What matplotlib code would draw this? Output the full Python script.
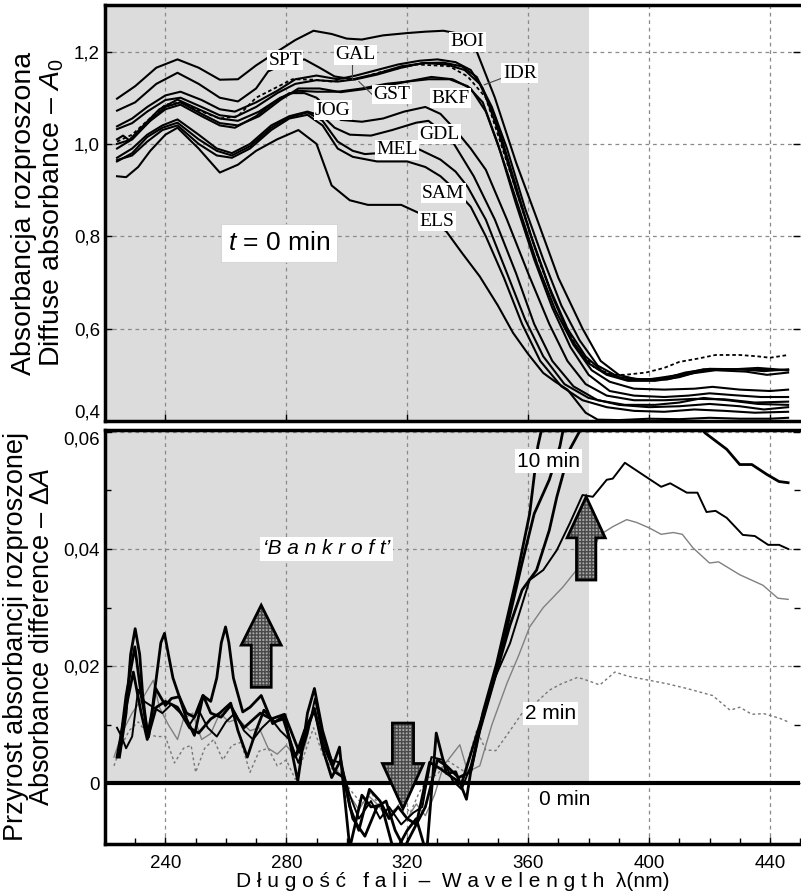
import matplotlib
matplotlib.use('Agg')
import matplotlib.pyplot as plt
from matplotlib import font_manager
from matplotlib.patches import Polygon, Rectangle
from matplotlib.ticker import MultipleLocator, FixedLocator

names = {f.name for f in font_manager.fontManager.ttflist}
NARROW = 'Liberation Sans Narrow' if 'Liberation Sans Narrow' in names else 'Liberation Sans'
plt.rcParams['font.family'] = ['Liberation Sans', 'DejaVu Sans']
plt.rcParams['mathtext.fontset'] = 'custom'
plt.rcParams['mathtext.rm'] = NARROW
plt.rcParams['mathtext.it'] = NARROW + ':italic'

# ---- top panel: diffuse absorbance A0 at t = 0 min, (wavelength nm, A0)
boi = [(224,1.098),(230,1.125),(237,1.165),(244,1.183),(251,1.165),(258,1.139),(264,1.14),(270,1.17),
       (277,1.2),(283,1.225),(289,1.245),(295,1.238),(300,1.228),(305,1.226),(312,1.235),(320,1.24),
       (326,1.243),(332,1.245),(336,1.24),(340,1.225),(343,1.2),(349,1.1),(356,0.96),(363,0.836),
       (370,0.71),(378,0.6),(384,0.53),(390,0.5),(396,0.49),(405,0.492),(412,0.505),(420,0.513),
       (430,0.512),(438,0.508),(446,0.512)]
spt = [(224,1.072),(230,1.09),(237,1.13),(244,1.154),(251,1.13),(258,1.1),(264,1.092),(270,1.12),
       (274,1.157),(280,1.175),(286,1.183),(291,1.165),(296,1.146),(302,1.14),(310,1.152),(318,1.168),
       (326,1.175),(333,1.172),(339,1.16),(344,1.13),(349,1.06),(355,0.93),(361,0.8),(367,0.69),
       (373,0.6),(379,0.54),(385,0.505),(392,0.49),(400,0.49),(410,0.5),(418,0.512),(430,0.512),(446,0.51)]
gal = [(224,1.038),(229,1.055),(234,1.08),(240,1.105),(245,1.113),(252,1.095),(258,1.075),(263,1.07),
       (270,1.09),(277,1.115),(283,1.14),(290,1.148),(297,1.14),(303,1.148),(310,1.16),(317,1.172),
       (324,1.18),(330,1.183),(336,1.177),(341,1.16),(345,1.12),(350,1.03),(356,0.9),(362,0.78),
       (368,0.67),(374,0.58),(380,0.525),(386,0.5),(393,0.487),(402,0.487),(410,0.495),(418,0.51),
       (428,0.512),(436,0.515),(446,0.51)]
idr = [(224,1.032),(229,1.045),(234,1.07),(240,1.095),(245,1.1),(252,1.08),(258,1.062),(263,1.058),
       (270,1.08),(277,1.11),(283,1.13),(290,1.138),(297,1.135),(303,1.14),(310,1.15),(318,1.165),
       (325,1.175),(332,1.176),(338,1.168),(343,1.145),(348,1.08),(353,0.99),(359,0.86),(365,0.75),
       (371,0.65),(377,0.575),(383,0.52),(390,0.495),(398,0.49),(406,0.49),(414,0.503),(422,0.51),
       (432,0.507),(439,0.5),(446,0.505)]
gst = [(224,1.01),(226,1.018),(228,1.008),(232,1.035),(238,1.075),(244,1.096),(251,1.075),(258,1.055),
       (264,1.05),(271,1.07),(278,1.1),(284,1.115),(290,1.113),(297,1.113),(305,1.12),(313,1.13),
       (320,1.135),(328,1.145),(335,1.14),(341,1.12),(346,1.07),(351,0.98),(357,0.86),(363,0.74),
       (369,0.64),(375,0.565),(381,0.51),(387,0.485),(395,0.47),(405,0.468),(415,0.47),(421,0.474),
       (430,0.468),(440,0.465),(446,0.468)]
bkf = [(224,1.0),(229,1.01),(234,1.045),(240,1.08),(245,1.09),(252,1.065),(258,1.045),(264,1.04),
       (271,1.06),(278,1.095),(284,1.12),(291,1.12),(298,1.112),(305,1.118),(313,1.126),(320,1.135),
       (327,1.14),(334,1.14),(340,1.125),(345,1.09),(350,1.0),(356,0.87),(362,0.75),(368,0.645),
       (374,0.56),(380,0.5),(387,0.465),(395,0.455),(405,0.452),(413,0.455),(420,0.46),(428,0.456),
       (437,0.452),(446,0.452)]
jog = [(224,0.99),(229,1.01),(235,1.05),(240,1.075),(245,1.085),(252,1.06),(258,1.04),(263,1.035),
       (270,1.06),(276,1.09),(281,1.11),(286,1.11),(290,1.1),(294,1.075),(298,1.052),(305,1.048),
       (312,1.055),(319,1.07),(326,1.08),(331,1.065),(336,1.03),(341,0.99),(346,0.944),(353,0.836),
       (360,0.72),(367,0.61),(373,0.53),(379,0.48),(386,0.455),(395,0.445),(405,0.445),(415,0.448),
       (425,0.447),(435,0.44),(446,0.442)]
dashed = [(224,1.005),(229,1.02),(234,1.05),(240,1.085),(245,1.09),(252,1.07),(258,1.055),(264,1.06),
          (270,1.1),(276,1.12),(282,1.14),(289,1.139),(295,1.135),(303,1.14),(312,1.157),(318,1.165),
          (323,1.172),(329,1.17),(334,1.168),(340,1.146),(346,1.1),(352,0.98),(358,0.86),(364,0.74),
          (370,0.64),(376,0.56),(382,0.515),(388,0.5),(392,0.5),(399,0.505),(405,0.515),(410,0.528),
          (416,0.535),(422,0.543),(430,0.543),(436,0.54),(440,0.537),(446,0.543)]
gdl = [(224,0.97),(229,0.99),(234,1.02),(239,1.04),(244,1.053),(251,1.02),(257,0.99),(262,0.98),
       (268,1.0),(275,1.04),(281,1.06),(287,1.07),(292,1.06),(296,1.035),(301,1.02),(308,1.018),
       (315,1.03),(323,1.046),(327,1.05),(331,1.03),(335,1.005),(342,0.93),(349,0.836),(356,0.72),
       (362,0.61),(368,0.53),(375,0.475),(383,0.445),(392,0.435),(402,0.435),(410,0.44),(418,0.45),
       (426,0.445),(436,0.437),(446,0.435)]
mel = [(224,0.962),(229,0.98),(234,1.015),(239,1.035),(244,1.046),(251,1.01),(257,0.985),(262,0.975),
       (268,0.995),(275,1.035),(281,1.058),(287,1.068),(292,1.05),(297,1.005),(302,0.985),(306,0.978),
       (315,0.982),(324,0.988),(331,0.966),(336,0.94),(340,0.907),(346,0.836),(353,0.72),(359,0.62),
       (365,0.54),(372,0.48),(380,0.45),(390,0.435),(400,0.43),(410,0.432),(420,0.437),(430,0.432),
       (438,0.425),(446,0.43)]
sam = [(224,0.965),(229,0.975),(234,1.005),(239,1.03),(244,1.04),(251,1.0),(257,0.975),(262,0.97),
       (268,0.99),(275,1.03),(281,1.055),(287,1.063),(292,1.04),(297,0.99),(302,0.972),(310,0.962),
       (320,0.962),(326,0.95),(331,0.93),(336,0.9),(341,0.864),(346,0.8),(352,0.71),(358,0.61),
       (364,0.53),(371,0.475),(378,0.445),(386,0.43),(395,0.422),(405,0.42),(415,0.425),(425,0.422),
       (435,0.418),(446,0.42)]
els = [(224,0.93),(227,0.928),(231,0.95),(235,0.985),(240,1.02),(244,1.035),(251,0.99),(258,0.938),
       (264,0.955),(270,0.985),(277,1.01),(284,1.03),(290,1.0),(295,0.91),(301,0.878),(307,0.868),
       (318,0.868),(324,0.85),(328,0.835),(333,0.81),(338,0.765),(344,0.713),(350,0.65),(355,0.591),
       (360,0.545),(365,0.504),(369,0.485),(373,0.468),(379,0.418),(383,0.403),(390,0.402),(400,0.405),
       (410,0.404),(420,0.407),(430,0.405),(440,0.405),(446,0.407)]

top_solid = [boi, spt, gal, idr, gst, bkf, jog, gdl, mel, sam, els]

# curve labels: (text, wavelength, A0)
top_labels = [('BOI', 340, 1.221), ('SPT', 279.6, 1.181), ('GAL', 302.9, 1.193), ('IDR', 357.2, 1.153),
              ('GST', 315, 1.107), ('BKF', 334.4, 1.099), ('JOG', 295.4, 1.073), ('GDL', 330.7, 1.021),
              ('MEL', 316.5, 0.987), ('SAM', 331.9, 0.893), ('ELS', 329.9, 0.833)]

# ---- bottom panel: absorbance difference dA (wavelength nm, dA)
d10a = [(224.8,0.0045),(227,0.012),(228.5,0.022),(230,0.0264),(231.5,0.022),(232.5,0.015),(234.1,0.0082),
        (235.5,0.012),(237,0.018),(238.5,0.024),(239.7,0.0256),(241,0.022),(242.5,0.018),(244.6,0.0148),
        (247,0.012),(249.6,0.0113),(252.4,0.015),(255,0.014),(257,0.018),(258.5,0.024),(259.9,0.0267),
        (261,0.024),(262.5,0.018),(265.6,0.0122),(268,0.013),(271.7,0.015),(275.5,0.0102),(279.4,0.0116),
        (283.8,0.0004),(287,0.012),(289.3,0.0162),(292,0.009),(295.4,0.003),(297.6,0.0062),(301,-0.011),
        (305,-0.002),(308,-0.004),(311.5,-0.0037),(315.8,-0.012),(320,-0.008),(323,-0.006),(326.4,-0.012),
        (329.6,0.0086),(333,0.0017),(336,0.002),(339.6,-0.0027),(341,0.002),(345,0.012),(349.6,0.0205),
        (356,0.0347),(360.5,0.046),(363.2,0.0575),(366,0.064),(368,0.07)]
d10b = [(224.6,0.005),(227,0.015),(229.9,0.0233),(232,0.015),(234.4,0.0079),(236.8,0.0162),(240,0.0133),
        (242,0.0145),(244.6,0.0148),(247,0.011),(249.6,0.0082),(252.5,0.015),(255,0.012),(258.4,0.0113),
        (261.6,0.0133),(264,0.011),(266,0.0095),(271.4,0.012),(275,0.011),(279.4,0.0118),(284.3,0.0053),
        (289.3,0.0128),(292,0.006),(295,0.001),(298,0.004),(301,-0.004),(304,-0.008),(307.5,-0.001),
        (311,-0.003),(314,-0.006),(317,-0.004),(320,-0.006),(323,-0.007),(327.4,0.0036),(331,0.0025),
        (335,0.001),(338,0.0),(341,0.005),(344,0.01),(350,0.02),(358,0.0376),(362,0.046),(367,0.0518),
        (370.5,0.0575),(373,0.064)]
d8 = [(224,0.0045),(227,0.013),(229.4,0.019),(232,0.012),(234,0.0075),(237,0.013),(240,0.014),
      (244,0.013),(248,0.0095),(251,0.0086),(255,0.011),(258,0.012),(261.6,0.0137),(264,0.009),
      (267.1,0.0045),(270,0.009),(272.6,0.0125),(276,0.0105),(279,0.011),(283,0.0045),(286,0.009),
      (289.3,0.0125),(292,0.007),(296,0.002),(299,0.001),(302,-0.006),(306,-0.009),(310,-0.004),
      (313,-0.003),(316,-0.008),(319,-0.011),(322,-0.008),(326,-0.004),(330,0.004),(333,0.003),
      (337,0.001),(341,0.002),(344,0.009),(349,0.018),(354,0.027),(358,0.033),(362.8,0.0364),
      (367,0.0432),(369.5,0.0489),(373.8,0.057),(378,0.061),(385,0.066),(400,0.067),(412,0.064),
      (418.5,0.0598),(425.7,0.057),(430,0.0544),(434,0.0544),(439,0.0527),(443,0.0515),(446,0.0513)]
d6 = [(224,0.0095),(225.5,0.008),(227,0.006),(229,0.008),(231,0.016),(233,0.014),(236,0.013),
      (239,0.012),(242,0.0135),(245,0.012),(248,0.01),(251,0.0125),(254,0.0095),(257,0.008),
      (260,0.0105),(263,0.012),(266,0.009),(269,0.0075),(272,0.0095),(275,0.011),(278,0.009),
      (281,0.0075),(284,0.0035),(287,0.0085),(289.5,0.0145),(292,0.008),(295,0.004),(298,0.0035),
      (301,-0.002),(304,-0.006),(308,-0.003),(311,-0.006),(314,-0.004),(318,-0.007),(322,-0.005),
      (325,-0.004),(328,0.0045),(332,0.004),(335,0.0005),(338,-0.001),(341,0.003),(345,0.011),
      (349,0.018),(354,0.0239),(360.5,0.0347),(365,0.0364),(369.5,0.0398),(373.8,0.0444),(378,0.0492),
      (381.4,0.0489),(386,0.0518),(388,0.052),(392,0.0547),(399,0.0523),(404,0.0506),(407,0.0512),
      (412.5,0.0496),(416,0.0496),(419,0.0463),(422,0.0465),(425.7,0.0453),(431,0.0424),(435,0.0422),
      (439.4,0.0407),(443,0.0407),(446,0.040)]
d4 = [(223,0.0045),(226,0.009),(229,0.012),(233,0.015),(236,0.0176),(238,0.013),(241,0.01),
      (244,0.0075),(246,0.011),(249,0.012),(252,0.0075),(255,0.0085),(258,0.012),(261,0.0105),
      (264,0.011),(268,0.009),(271,0.0095),(274,0.006),(277,0.005),(280,0.0065),(283,0.0045),
      (286,0.006),(289,0.0125),(292,0.007),(295,0.003),(298,0.0015),(301,-0.002),(304,-0.0045),
      (307,-0.002),(310,-0.0035),(313,-0.0055),(317,-0.004),(320,-0.006),(323,-0.0035),(326,-0.0055),
      (329,-0.002),(332,0.003),(335,0.005),(337.4,0.0066),(340,0.002),(344,0.003),(348,0.01),
      (353,0.0171),(357,0.022),(360.5,0.0267),(365,0.03),(371.5,0.0335),(376,0.0364),(380,0.038),
      (383.7,0.0424),(388,0.0438),(392.6,0.045),(396,0.0445),(400,0.0436),(404,0.0425),(408,0.0428),
      (411,0.0425),(414.5,0.0402),(420,0.0376),(423,0.0378),(430,0.0356),(437.7,0.0338),(442.6,0.0316),
      (446,0.0314)]
d2 = [(223,0.003),(225,0.006),(228,0.009),(231,0.0105),(234,0.0085),(237,0.008),(240,0.008),
      (243,0.0035),(246,0.006),(248.5,0.0065),(250,0.0019),(253,0.006),(256,0.0075),(259,0.004),
      (262,0.0065),(265,0.007),(268,0.0019),(271,0.0055),(274,0.006),(277,0.003),(280,0.004),
      (283,0.0007),(286,0.005),(289,0.0095),(292,0.005),(295,0.0025),(298,0.002),(301,-0.001),
      (305,-0.0035),(308,-0.0015),(311,-0.004),(314,-0.006),(318,-0.003),(321,-0.005),(324,-0.0015),
      (327,0.001),(330,0.0015),(333,0.004),(336,0.003),(339,0.002),(343,0.0091),(346,0.0057),
      (349.3,0.0056),(354,0.009),(358,0.012),(362,0.0135),(367,0.0159),(371,0.017),(376.4,0.0181),
      (380,0.0175),(383.7,0.0168),(388.7,0.019),(393,0.0183),(400,0.0176),(406,0.017),(412.5,0.0162),
      (421,0.015),(426.8,0.0125),(430,0.013),(434,0.0118),(438,0.0119),(443.3,0.0111),(446,0.0105)]

# arrows: (x, tail, tip, head base, head half-width, shaft half-width)
arrows = [(271.7, 0.0164, 0.0304, 0.0236, 6.6, 3.3),
          (318.6, 0.0103, -0.0043, 0.0034, 6.8, 3.5),
          (379.2, 0.0347, 0.0489, 0.0419, 6.3, 3.2)]

XMIN, XMAX, SHADE_END = 220, 450, 380
GRID = dict(color='#8a8a8a', lw=0.9, ls=(0, (3, 3)))


def xy(curve):
    return [p[0] for p in curve], [p[1] for p in curve]


def fat_arrow(ax, x, tail, tip, base, hw, sw):
    pts = [(x - sw, tail), (x - sw, base), (x - hw, base), (x, tip),
           (x + hw, base), (x + sw, base), (x + sw, tail)]
    ax.add_patch(Polygon(pts, closed=True, facecolor='#a8a8a8', edgecolor='#4a4a4a',
                         hatch='+++++', lw=0, zorder=6))
    ax.add_patch(Polygon(pts, closed=True, fill=False, edgecolor='black', lw=2, zorder=7))


def style_axes(ax):
    for side in ['top', 'bottom', 'left']:
        ax.spines[side].set_linewidth(2.5)
    ax.spines['right'].set_visible(False)
    ax.tick_params(direction='in', length=5, width=1, labelsize=13.5, right=True)
    ax.tick_params(which='minor', direction='in', length=4, width=1, right=True)
    ax.set_xlim(XMIN, XMAX)
    ax.xaxis.set_major_locator(MultipleLocator(40))


fig = plt.figure(figsize=(8.01, 8.92), dpi=100)
ax1 = fig.add_axes([0.131, 0.528, 0.868, 0.466])
ax2 = fig.add_axes([0.131, 0.054, 0.868, 0.464])

# ---------------- top panel
style_axes(ax1)
ax1.axvspan(XMIN, SHADE_END, color='#dcdcdc', lw=0, zorder=0)
ax1.set_ylim(0.4, 1.3)
ax1.yaxis.set_major_locator(FixedLocator([0.4, 0.6, 0.8, 1.0, 1.2]))
ax1.set_yticklabels(['0,4', '0,6', '0,8', '1,0', '1,2'])
ax1.get_yticklabels()[0].set_va('bottom')
ax1.tick_params(labelbottom=False)
ax1.grid(True, **GRID)
ax1.set_axisbelow(True)

for c in top_solid:
    ax1.plot(*xy(c), color='black', lw=1.5, zorder=3, solid_joinstyle='round')
ax1.plot(*xy(dashed), color='black', lw=1.3, ls=(0, (2, 1.5)), zorder=3)

for name, x, y in top_labels:
    ax1.text(x, y, name, family='Liberation Serif', fontsize=14, ha='center', va='center', zorder=5,
             bbox=dict(facecolor='white', edgecolor='none', pad=1.0))
# leader lines
ax1.plot([301.7, 301.7], [1.177, 1.14], color='#444', lw=0.8, zorder=4)
ax1.plot([309.5, 304], [1.1, 1.135], color='#444', lw=0.8, zorder=4)
ax1.plot([352, 345.5], [1.144, 1.128], color='#444', lw=0.8, zorder=4)

ax1.text(277.7, 0.786, '$t$ = 0 min', fontsize=19, family=NARROW, ha='center', va='center', zorder=5,
         bbox=dict(facecolor='white', edgecolor='#cccccc', lw=0.5, pad=5))
ax1.set_ylabel('Absorbancja rozproszona\nDiffuse absorbance – $A_0$', family=NARROW,
               fontsize=20.5, labelpad=6, linespacing=1.0)

# ---------------- bottom panel
style_axes(ax2)
ax2.add_patch(Rectangle((XMIN, 0), SHADE_END - XMIN, 0.07, color='#dcdcdc', lw=0, zorder=0))
ax2.set_ylim(-0.0103, 0.0603)
ax2.yaxis.set_major_locator(FixedLocator([0, 0.02, 0.04, 0.06]))
ax2.yaxis.set_minor_locator(FixedLocator([0.01, 0.03, 0.05]))
ax2.set_yticklabels(['0', '0,02', '0,04', '0,06'])
ax2.get_yticklabels()[-1].set_va('top')
ax2.xaxis.set_minor_locator(MultipleLocator(10))
ax2.tick_params(axis='x', pad=8)
ax2.grid(True, which='major', **GRID)
ax2.set_axisbelow(True)
ax2.axhline(0, color='black', lw=3, zorder=4)

ax2.plot(*xy(d2), color='#777777', lw=1.0, ls=(0, (2, 2)), zorder=3)
ax2.plot(*xy(d4), color='#808080', lw=1.0, zorder=3, solid_joinstyle='round')
ax2.plot(*xy(d6), color='black', lw=1.4, zorder=3, solid_joinstyle='round')
ax2.plot(*xy(d8), color='black', lw=2.0, zorder=3, solid_joinstyle='round')
ax2.plot(*xy(d10b), color='black', lw=2.0, zorder=3, solid_joinstyle='round')
ax2.plot(*xy(d10a), color='black', lw=2.0, zorder=3, solid_joinstyle='round')

for a in arrows:
    fat_arrow(ax2, *a)

ax2.text(366.8, 0.055, '10 min', fontsize=15, family=NARROW, ha='center', va='center', zorder=8,
         bbox=dict(facecolor='white', edgecolor='none', pad=1.5))
ax2.text(367.5, 0.012, '2 min', fontsize=15, family=NARROW, ha='center', va='center', zorder=8,
         bbox=dict(facecolor='white', edgecolor='none', pad=1.5))
ax2.text(372, -0.0028, '0 min', fontsize=15, family=NARROW, ha='center', va='center', zorder=8)
ax2.text(293.3, 0.040, '\u2018B a n k r o f t\u2019', fontsize=15, family=NARROW, style='italic',
         ha='center', va='center', zorder=8, bbox=dict(facecolor='white', edgecolor='none', pad=2))

ax2.set_ylabel('Przyrost absorbancji rozproszonej\nAbsorbance difference – $\\Delta A$', family=NARROW,
               fontsize=19.5, labelpad=6, linespacing=1.0)
ax2.set_xlabel('D ł u g o ś ć   f a l i  –  W a v e l e n g t h  λ(nm)', fontsize=15, labelpad=0)

fig.savefig('out.png', dpi=100)
